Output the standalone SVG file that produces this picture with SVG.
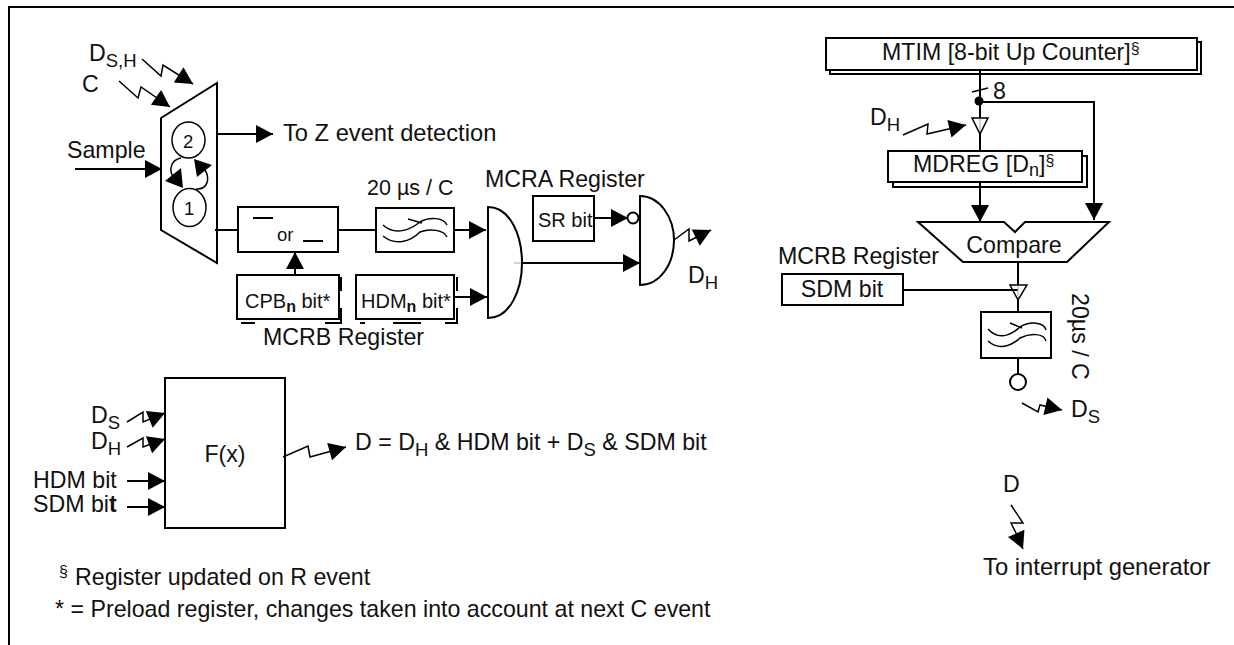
<svg xmlns="http://www.w3.org/2000/svg" width="1234" height="645" viewBox="0 0 1234 645">
<style>
text{font-family:"Liberation Sans",Arial,sans-serif;font-size:23.2px;fill:#111}
.s{font-size:20px}
.sub{font-size:18.5px}
.l{fill:none;stroke:#000;stroke-width:2}
.t{fill:none;stroke:#000;stroke-width:1.5}
.g{fill:none;stroke:#aaa;stroke-width:1}
.a{marker-end:url(#ar)}
.b{fill:#fff;stroke:#000;stroke-width:2}
</style>
<defs>
<marker id="ar" markerUnits="userSpaceOnUse" markerWidth="20" markerHeight="20" refX="18" refY="10" orient="auto"><path d="M1,1L18,10L1,19Z" fill="#000"/></marker>
</defs>
<rect width="1234" height="645" fill="#fff"/>
<path id="frame" class="l" d="M9,645V7H1234"/>
<g id="connectors">
<path class="t a" d="M142,59L161,76L163,65L193,84"/>
<path class="t a" d="M119,81L138,98L141,87L170,107"/>
<path class="l a" d="M75,169H162"/>
<path class="l a" d="M217,134H273"/>
<path class="l" d="M215,230H238"/>
<path class="l" d="M338,230H376"/>
<path class="l a" d="M454,230H486"/>
<path class="l a" d="M295,275V252"/>
<path class="l a" d="M454,297H487"/>
<path class="l a" d="M522,263H640"/>
<path class="g" d="M514,263H522"/>
<path class="l a" d="M594,218H628"/>
<path class="t a" d="M674,240L689,229L689,241L711,230"/>
<path class="l" d="M980,70V118"/>
<path class="t" d="M972,92L988,88"/>
<path class="l a" d="M980,102H1094V220"/>
<path class="t a" d="M903,135L928,124L927,134L966,125"/>
<path class="l" d="M980,134V151"/>
<path class="g" d="M980,118V134"/>
<path class="l a" d="M980,182V222"/>
<path class="l" d="M903,290H1018"/>
<path class="l" d="M1018,262V285M1018,300V312M1018,358V374"/>
<path class="g" d="M1018,285V300"/>
<path class="t a" d="M1022,403L1038,412L1040,405L1062,410"/>
<path class="t a" d="M127,422L143,412L143,422L165,413"/>
<path class="t a" d="M127,447L143,438L143,447L165,439"/>
<path class="l a" d="M127,481H165"/>
<path class="l a" d="M127,507H165"/>
<path class="t a" d="M283,457L308,446L310,457L346,447"/>
<path class="t a" d="M1011,505L1023,523L1011,523L1016,533L1023,549"/>
<path class="t" d="M181,158C170,160 168,172 175,179"/>
<path class="t" d="M196,189C208,190 210,178 205,170"/>
<path d="M165,181L181,168L183,188Z"/>
<path d="M212,165L194,159L197,177Z"/>
</g>
<g id="mux"><path class="l" d="M161,118L217,83V263L161,230Z"/>
<ellipse class="t" cx="188.500" cy="140" rx="16.500" ry="18"/><ellipse class="t" cx="189.500" cy="207.500" rx="16.500" ry="19"/>
<text class="sub" x="183" y="148">2</text><text class="sub" x="184" y="215">1</text></g>
<g id="or"><rect class="l" x="238" y="207" width="100" height="45"/><path class="l" d="M253,218H273M303,241H323"/><text class="sub" x="277" y="241">or</text></g>
<g id="filter1"><rect class="l" x="376" y="208" width="78" height="44"/><path class="t" d="M383,225C395,236 410,230 420,222C430,216 444,218 447,225M383,236C395,246 410,242 420,232C430,228 444,230 447,237M408,219L422,223"/></g>
<g id="cpb"><path class="l" d="M241,323H255M341,277V291M341,308V323H325"/><rect class="b" x="237" y="275" width="102" height="44"/><text class="s" x="245" y="308">CPB<tspan dy="4" font-size="16" font-weight="bold">n</tspan><tspan dy="-4"> bit*</tspan></text></g>
<g id="hdm"><path class="l" d="M360,323H365M393,323H421M445,323H457V308M457,291V277"/><rect class="b" x="356" y="275" width="98" height="44"/><text class="s" x="361" y="308">HDM<tspan dy="4" font-size="16" font-weight="bold">n</tspan><tspan dy="-4"> bit*</tspan></text></g>
<g id="and1"><path class="l" d="M488,207C510,207 522,235 522,263C522,290 510,318 488,318Z"/></g>
<g id="sr"><rect class="l" x="533" y="196" width="61" height="45"/><text class="s" x="538" y="227">SR bit</text></g>
<g id="and2"><path class="l" d="M640,196C660,196 674,218 674,240C674,264 660,285 640,285Z"/><circle class="b" cx="633" cy="218" r="5.500"/></g>
<g id="mtim"><path class="l" d="M830,70V74H1201V42H1197"/><rect class="b" x="826" y="38" width="371" height="32"/><text x="882" y="60">MTIM [8-bit Up Counter]<tspan dy="-6" font-size="16">§</tspan></text></g>
<circle cx="979" cy="101" r="4.500"/>
<g id="mdreg"><path class="l" d="M893,182V187H1087V156H1082"/><rect class="b" x="888" y="151" width="194" height="31"/><text x="913" y="172">MDREG [D<tspan dy="4" font-size="18">n</tspan><tspan dy="-4">]</tspan><tspan dy="-6" font-size="16">§</tspan></text></g>
<g id="buf1"><path class="t" d="M972,118H988L980,134Z"/></g>
<g id="compare"><path class="l" d="M918,222H1004L1015,232L1025,222H1109L1067,262H963Z"/><text x="1014" y="253" text-anchor="middle">Compare</text></g>
<g id="sdm"><rect class="l" x="782" y="274" width="121" height="31"/><text x="842" y="297" text-anchor="middle">SDM bit</text></g>
<g id="buf2"><path class="t" d="M1010,285H1027L1018,300Z"/></g>
<g id="filter2"><rect class="l" x="981" y="312" width="70" height="46"/><path class="t" d="M988,329C998,340 1010,336 1020,327C1030,321 1044,322 1046,330M988,341C998,350 1010,347 1020,338C1030,333 1044,333 1046,341M1010,323L1022,328"/></g>
<circle class="b" cx="1018" cy="382" r="8"/>
<g id="fx"><rect class="l" x="165" y="378" width="120" height="150"/><text x="225" y="462" text-anchor="middle">F(x)</text></g>
<text x="89" y="61">D<tspan class="sub" dy="6">S,H</tspan></text>
<text x="82" y="92">C</text>
<text x="67" y="158">Sample</text>
<text x="283" y="141" style="font-size:23.700px">To Z event detection</text>
<text x="367" y="195" style="font-size:21.500px">20 µs / C</text>
<text x="485" y="187">MCRA Register</text>
<text x="263" y="345">MCRB Register</text>
<text x="688" y="283">D<tspan class="sub" dy="6">H</tspan></text>
<text x="778" y="264">MCRB Register</text>
<text x="993" y="99">8</text>
<text x="870" y="125">D<tspan class="sub" dy="6">H</tspan></text>
<text x="1072" y="293" transform="rotate(90 1072 293)">20µs / C</text>
<text x="1071" y="417">D<tspan class="sub" dy="6">S</tspan></text>
<text x="1003" y="492">D</text>
<text x="983" y="575" style="font-size:23.800px">To interrupt generator</text>
<text x="91" y="423">D<tspan class="sub" dy="6">S</tspan></text>
<text x="91" y="449">D<tspan class="sub" dy="6">H</tspan></text>
<text x="33" y="488">HDM bit</text>
<text x="33" y="512">SDM bi<tspan font-weight="bold">t</tspan></text>
<text x="355" y="450">D = D<tspan class="sub" dy="6">H</tspan><tspan dy="-6"> &amp; HDM bit + D</tspan><tspan class="sub" dy="6">S</tspan><tspan dy="-6"> &amp; SDM bit</tspan></text>
<text x="59" y="577" style="font-size:16px">§</text>
<text x="75" y="585">Register updated on R event</text>
<text x="55" y="617">* = Preload register, changes taken into account at next C event</text>
</svg>
